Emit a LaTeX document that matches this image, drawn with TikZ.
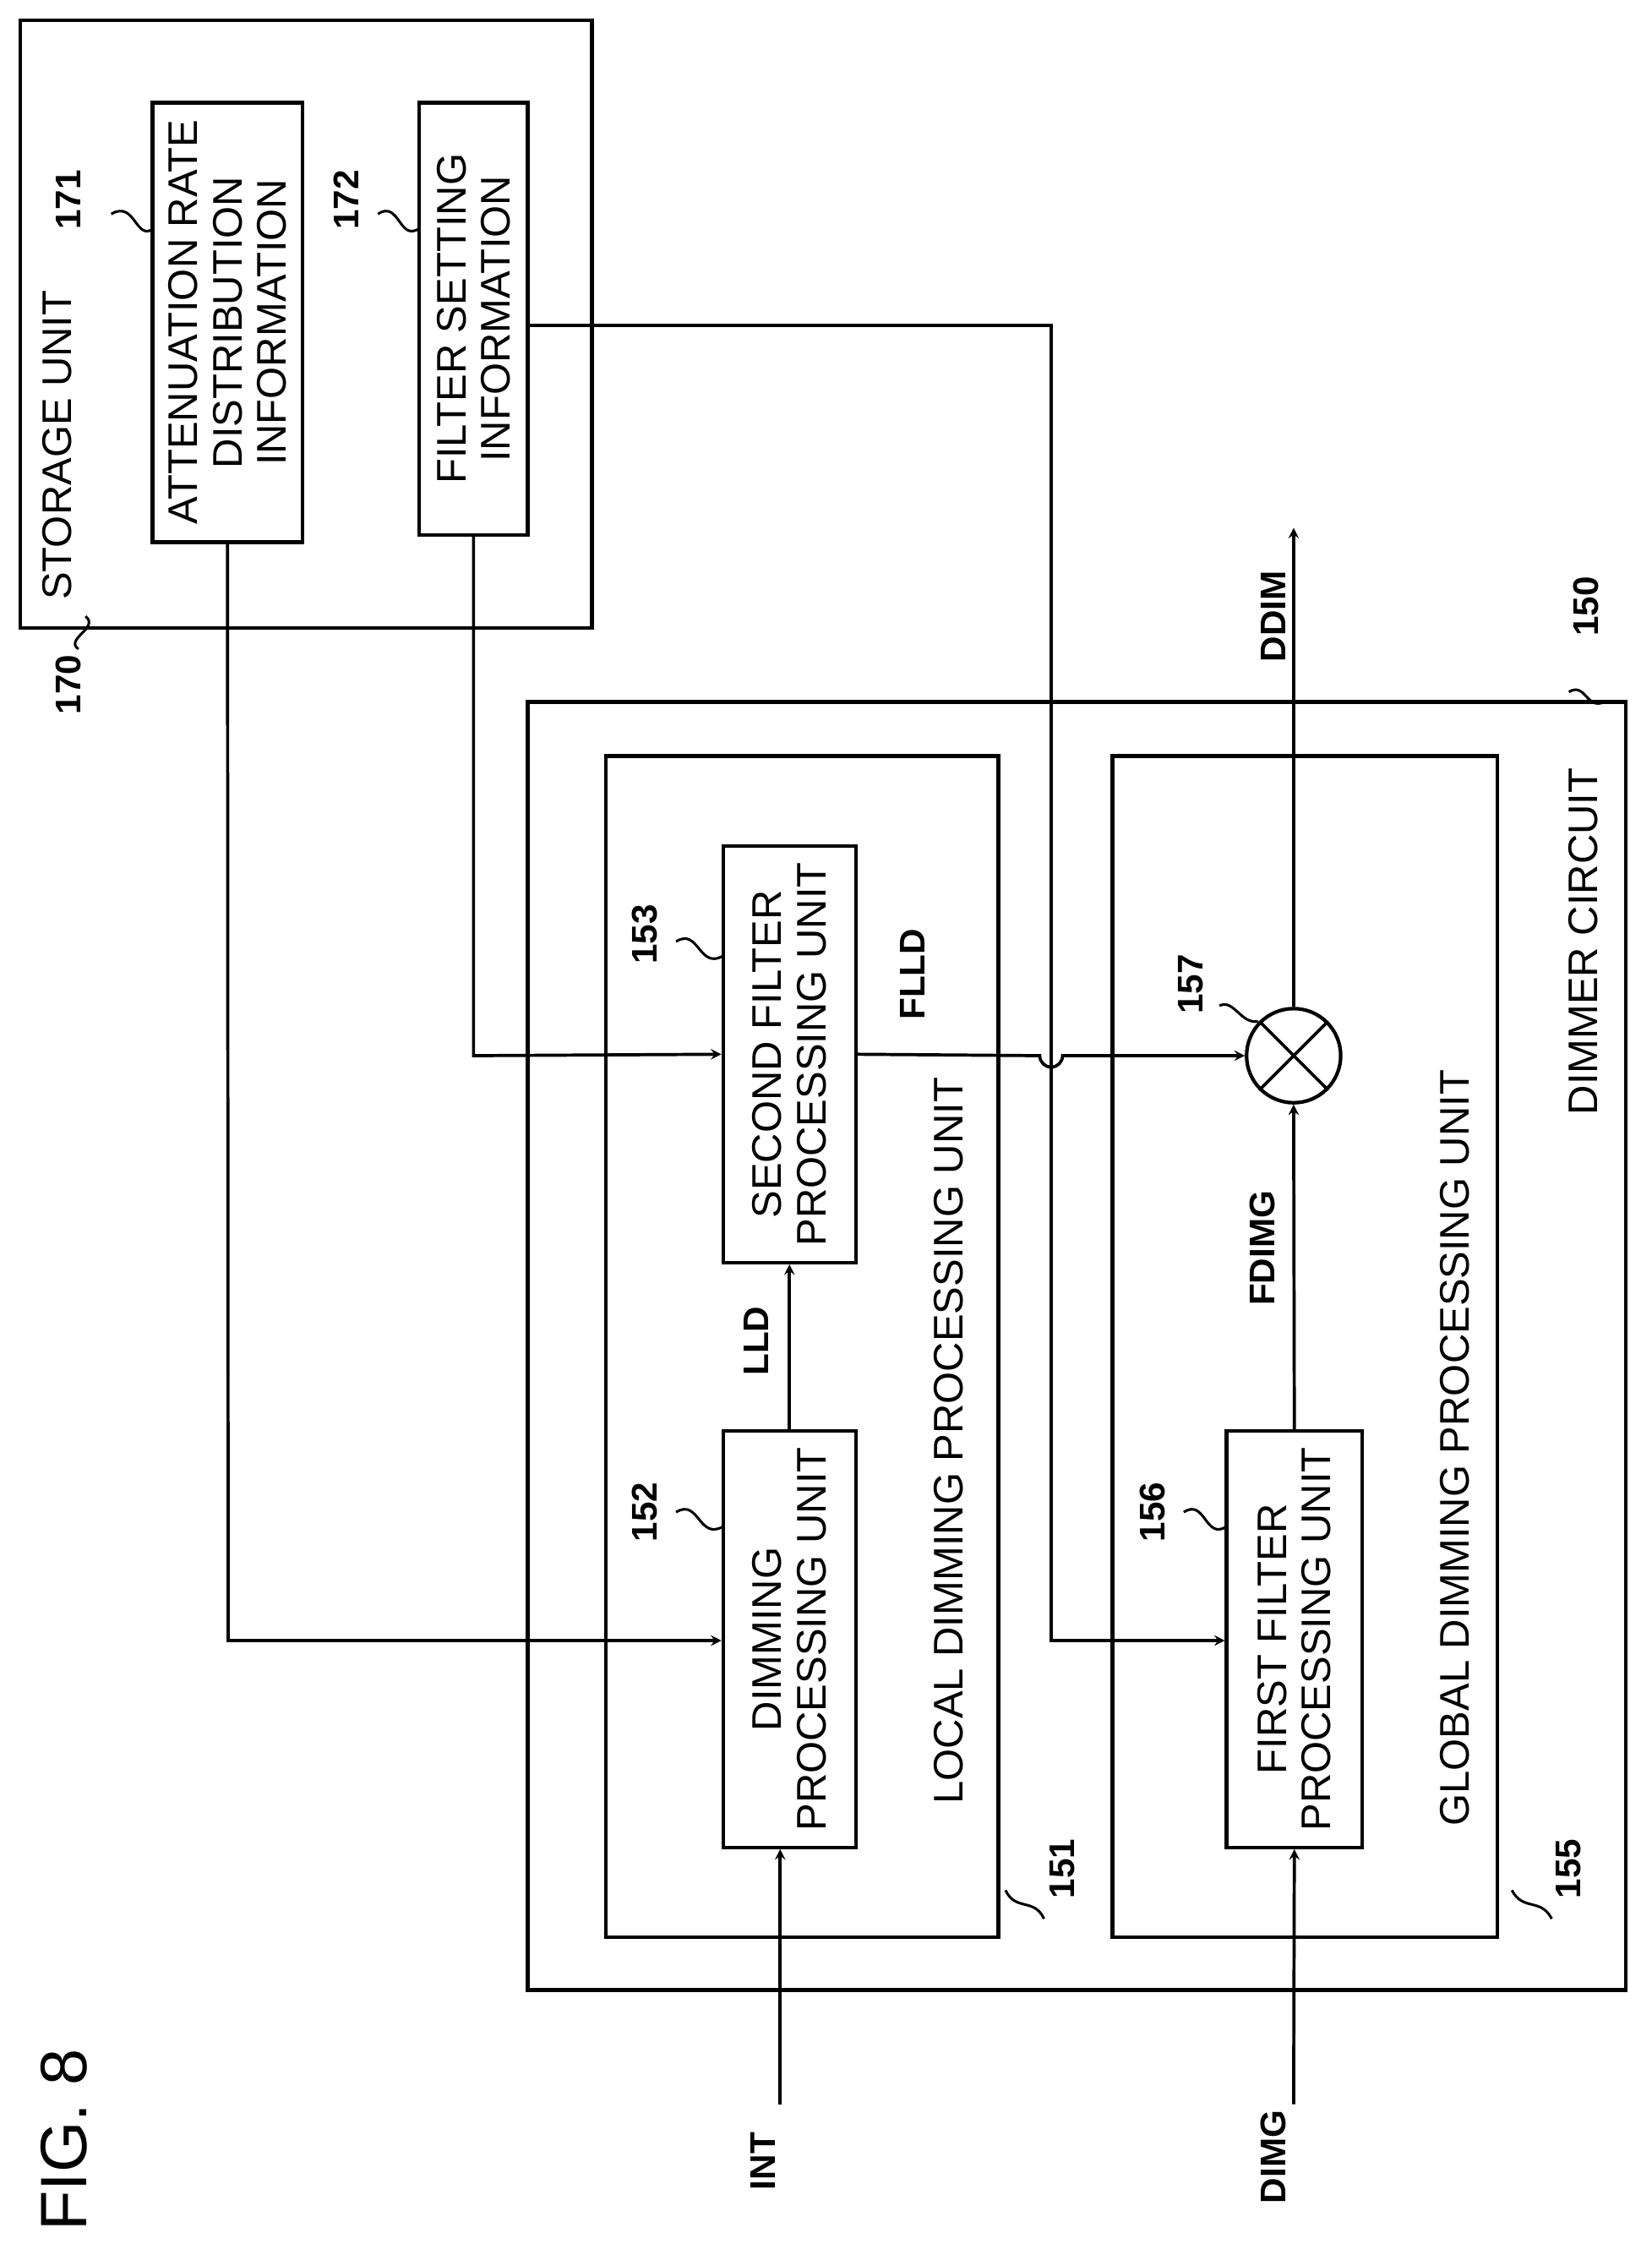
\documentclass[tikz,border=0pt]{standalone}
\usepackage{fontspec}
\setmainfont{Liberation Sans}
\usetikzlibrary{arrows}
\tikzset{
  block/.style={rectangle, draw, line width=2.5pt, inner sep=0pt},
  txt/.style={rotate=90, align=center, font=\fontsize{29}{31}\selectfont},
  num/.style={rotate=90, font=\bfseries\fontsize{25}{28}\selectfont},
  sig/.style={line width=2.2pt, -stealth},
  lead/.style={line width=1.8pt}
}
\begin{document}
\begin{tikzpicture}[x=1pt, y=-1pt, line width=2.2pt]
  \useasboundingbox (0,0) rectangle (1158,1573);

  % storage unit
  \node[block, minimum width=401pt, minimum height=426pt] (store) at (214.5,227) {};
  \node[txt] at (40,312) {STORAGE UNIT};
  \node[num] (n170) at (48,480) {170};
  \draw[lead] (55,455) .. controls (45,448) and (70,440) .. (60,432);
  \node[block, minimum width=105pt, minimum height=308pt] (att) at (159.5,226) {};
  \node[txt] at (att) {ATTENUATION RATE\\DISTRIBUTION\\INFORMATION};
  \node[num] at (48,140) {171};
  \node[block, minimum width=76pt, minimum height=303pt] (fset) at (332,223.5) {};
  \node[txt] at (fset) {FILTER SETTING\\INFORMATION};
  \node[num] at (243,140) {172};

  % dimmer circuit
  \node[block, minimum width=770pt, minimum height=903pt] (dim) at (755,943.5) {};
  \node[txt] at (1110,660) {DIMMER CIRCUIT};
  \node[num] at (1112,425) {150};
  \node[block, minimum width=275pt, minimum height=828pt] (loc) at (562.5,944) {};
  \node[txt] at (665,1010) {LOCAL DIMMING PROCESSING UNIT};
  \node[num] at (745,1310) {151};
  \node[block, minimum width=270pt, minimum height=828pt] (glob) at (915,944) {};
  \node[txt] at (1020,1015) {GLOBAL DIMMING PROCESSING UNIT};
  \node[num] at (1100,1310) {155};

  \node[block, minimum width=93pt, minimum height=292pt] (dpu) at (553.5,1149) {};
  \node[txt] at (dpu) {DIMMING\\PROCESSING UNIT};
  \node[num] at (452,1060) {152};
  \node[block, minimum width=93pt, minimum height=292pt] (sfp) at (553.5,739) {};
  \node[txt] at (sfp) {SECOND FILTER\\PROCESSING UNIT};
  \node[num] at (452,655) {153};
  \node[block, minimum width=95pt, minimum height=292pt] (ffp) at (907.5,1149) {};
  \node[txt] at (ffp) {FIRST FILTER\\PROCESSING UNIT};
  \node[num] at (808,1060) {156};
  \node[circle, draw, line width=2.5pt, minimum size=66pt, inner sep=0pt] (mul) at (907,740) {};
  \draw (mul.north west) -- (mul.south east) (mul.north east) -- (mul.south west);
  \node[num] at (835,690) {157};

  % leaders
  \draw[lead] (78,150) .. controls (95,140) and (95,170) .. (108,160);
  \draw[lead] (265,150) .. controls (280,140) and (280,170) .. (294,160);
  \draw[lead] (474,660) .. controls (490,650) and (490,680) .. (507,670);
  \draw[lead] (474,1060) .. controls (490,1050) and (490,1080) .. (507,1070);
  \draw[lead] (830,1060) .. controls (845,1050) and (845,1080) .. (860,1070);
  \draw[lead] (855,705) .. controls (865,700) and (870,718) .. (882,716);
  \draw[lead] (705,1325) .. controls (712,1340) and (725,1330) .. (732,1345);
  \draw[lead] (1060,1325) .. controls (1068,1340) and (1080,1330) .. (1088,1345);
  \draw[lead] (1100,485) .. controls (1112,478) and (1112,498) .. (1125,492);

  % signals
  \coordinate (int) at (547,1475);
  \coordinate (dimg) at (907,1475);
  \coordinate (ddim) at (907,370);
  \node[num] at (535,1515) {INT};
  \node[num] at (893,1512) {DIMG};
  \node[num] at (893,432) {DDIM};
  \node[num] at (530,940) {LLD};
  \node[num] at (885,875) {FDIMG};
  \node[num] at (640,683) {FLLD};
  \draw[sig] (int) -- (dpu.south -| int);
  \draw[sig] (dimg) -- (ffp.south);
  \draw[sig] (dpu.north) -- (sfp.south);
  \draw[sig] (ffp.north) -- (mul.south);
  \draw[sig] (mul.north) -- (ddim);
  \draw[sig] (sfp.east) -- (729,740) arc (180:0:8) -- (mul.west);
  \draw[sig] (att.south) -- (160,1150) -- (dpu.west |- 0,1150);
  \draw[sig] (fset.south) -- (332,740) -- (sfp.west);
  \draw[sig] (fset.east |- 0,228) -- (737,228) -- (737,1150) -- (ffp.west |- 0,1150);

  \node[rotate=90, font=\fontsize{46}{50}\selectfont] at (45,1500) {FIG. 8};
\end{tikzpicture}
\end{document}
